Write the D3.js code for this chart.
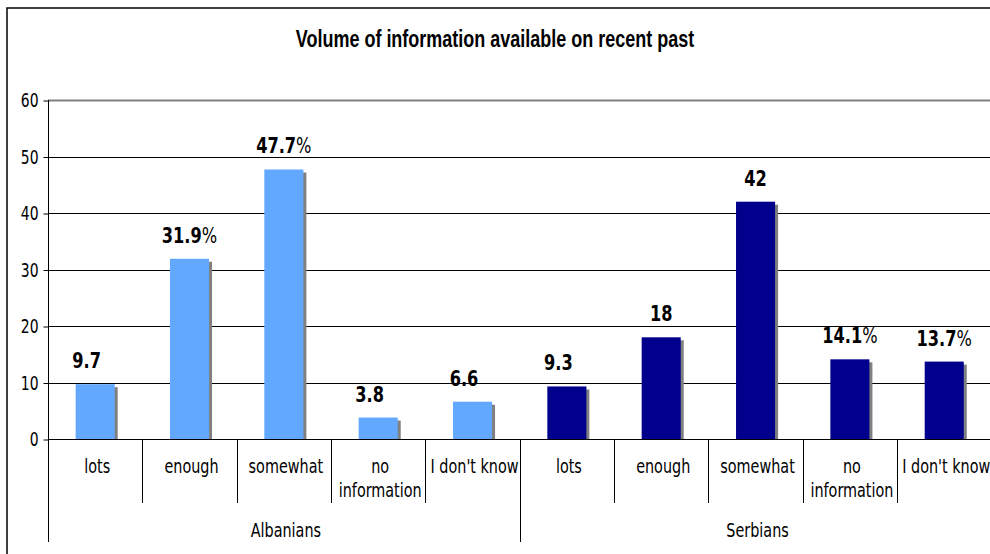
<!DOCTYPE html>
<html>
<head>
<meta charset="utf-8">
<script src="https://cdn.jsdelivr.net/npm/d3@7"></script>
<style>
  html, body { margin: 0; padding: 0; background: #fff; overflow: hidden; }
  svg { display: block; }
  .lbl { font-family: "DejaVu Sans Condensed", "DejaVu Sans", sans-serif; font-stretch: condensed; }
</style>
</head>
<body>
<svg id="chart" width="990" height="554"></svg>
<script>
// Survey answers, percent of respondents per community
const groups = ["Albanians", "Serbians"];
const categories = ["lots", "enough", "somewhat", "no information", "I don't know"];
const albanianValues = [9.7, 31.9, 47.7, 3.8, 6.6];
const serbianValues = [9.3, 18, 42, 14.1, 13.7];
// which value labels carry a trailing percent sign
const albanianPercent = [false, true, true, false, false];
const serbianPercent = [false, false, false, true, true];
const yTicks = [0, 10, 20, 30, 40, 50, 60];
const title = "Volume of information available on recent past";

const seriesValues = [albanianValues, serbianValues];
const seriesPercent = [albanianPercent, serbianPercent];
const seriesColors = ["#62a8ff", "#00008c"];

const rows = [];
groups.forEach((g, gi) => {
  categories.forEach((c, ci) => {
    rows.push({
      key: g + "|" + c, group: g, gi, category: c,
      value: seriesValues[gi][ci], pct: seriesPercent[gi][ci]
    });
  });
});

const svg = d3.select("#chart");
const plotLeft = 48, plotRight = 991.4, plotTop = 100, plotBottom = 439;
const stretch = 1.22;

const x = d3.scaleBand().domain(rows.map(d => d.key)).range([plotLeft, plotRight])
  .paddingInner(0.586).paddingOuter(0.293);
const step = x.step();
const colStart = k => x(k) - x.paddingOuter() * step; // left edge of a category column
const y = d3.scaleLinear().domain([0, 60]).range([plotBottom, plotTop]);

// outer frame
svg.append("rect").attr("x", 7).attr("y", 8).attr("width", 1100).attr("height", 700)
  .attr("fill", "none").attr("stroke", "#000").attr("stroke-width", 1.5);

// title
svg.append("text").attr("transform", `translate(495,47) scale(1,1.3)`)
  .attr("text-anchor", "middle")
  .style("font-family", "'Liberation Sans', Arial, sans-serif")
  .style("font-weight", "bold").style("font-size", "18px")
  .text(title);

// horizontal grid lines
svg.append("g").selectAll("line").data(yTicks.filter(t => t > 0)).join("line")
  .attr("x1", plotLeft).attr("x2", 990)
  .attr("y1", d => Math.round(y(d)) + 0.5).attr("y2", d => Math.round(y(d)) + 0.5)
  .attr("stroke", d => d === 60 ? "#808080" : "#000")
  .attr("stroke-width", d => d === 60 ? 2 : 1);

// y axis
const yAxis = d3.axisLeft(y).tickValues(yTicks).tickSize(5).tickPadding(5);
const ya = svg.append("g").attr("transform", `translate(${plotLeft + 0.5},0.5)`).call(yAxis);
ya.select(".domain").remove();
ya.selectAll(".tick line").attr("stroke", "#000");
ya.selectAll(".tick text").attr("class", "lbl").attr("fill", "#000")
  .style("font-size", "15.5px").attr("dy", null).attr("y", null)
  .attr("transform", "translate(0,6) scale(1," + stretch + ")");
svg.append("line").attr("x1", plotLeft + 0.5).attr("x2", plotLeft + 0.5)
  .attr("y1", y(60)).attr("y2", 542).attr("stroke", "#000");

// bar shadows then bars
const bars = svg.append("g");
bars.selectAll("rect.shadow").data(rows).join("rect").attr("class", "shadow")
  .attr("x", d => x(d.key) + 3).attr("y", d => y(d.value) + 3)
  .attr("width", x.bandwidth()).attr("height", d => Math.max(0, y(0) - y(d.value) - 3))
  .attr("fill", "#808080");
bars.selectAll("rect.bar").data(rows).join("rect").attr("class", "bar")
  .attr("x", d => x(d.key)).attr("y", d => y(d.value))
  .attr("width", x.bandwidth()).attr("height", d => y(0) - y(d.value))
  .attr("fill", d => seriesColors[d.gi]);

// baseline
svg.append("line").attr("x1", plotLeft).attr("x2", 990)
  .attr("y1", Math.round(y(0)) + 0.5).attr("y2", Math.round(y(0)) + 0.5)
  .attr("stroke", "#000");

// value labels
const vl = svg.append("g").selectAll("text").data(rows).join("text")
  .attr("class", "lbl")
  .attr("text-anchor", "middle")
  .attr("transform", d => {
    const shift = (!d.pct && !Number.isInteger(d.value)) ? -8.5 : 0;
    return `translate(${x(d.key) + x.bandwidth() / 2 + shift},${y(d.value) - 16}) scale(1,1.15)`;
  })
  .style("font-size", "18px").attr("fill", "#000");
vl.append("tspan").style("font-weight", "bold").text(d => String(d.value));
vl.filter(d => d.pct).append("tspan").text("%");

// category separators
const sepX = rows.map(d => colStart(d.key)).concat([plotRight]);
svg.append("g").selectAll("line").data(sepX).join("line")
  .attr("x1", d => Math.round(d) + 0.5).attr("x2", d => Math.round(d) + 0.5)
  .attr("y1", y(0)).attr("y2", (d, i) => (i % categories.length === 0) ? 542 : 503)
  .attr("stroke", "#000");

// category labels
const cl = svg.append("g").selectAll("text").data(rows).join("text")
  .attr("class", "lbl").attr("text-anchor", "middle")
  .attr("transform", d => `translate(${x(d.key) + x.bandwidth() / 2 + 2},473) scale(1,${stretch})`)
  .style("font-size", "16px").attr("fill", "#000");
cl.selectAll("tspan").data(d => d.category.startsWith("no ") ? d.category.split(" ") : [d.category])
  .join("tspan").attr("x", 0).attr("dy", (d, i) => i === 0 ? 0 : 19.5).text(d => d);

// group labels
svg.append("g").selectAll("text").data(groups).join("text")
  .attr("class", "lbl").attr("text-anchor", "middle")
  .attr("transform", (g, gi) => {
    const a = colStart(g + "|" + categories[0]);
    const b = gi === groups.length - 1 ? plotRight : colStart(groups[gi + 1] + "|" + categories[0]);
    return `translate(${(a + b) / 2 + 2},537) scale(1,${stretch})`;
  })
  .style("font-size", "16px").attr("fill", "#000")
  .text(d => d);
</script>
</body>
</html>
